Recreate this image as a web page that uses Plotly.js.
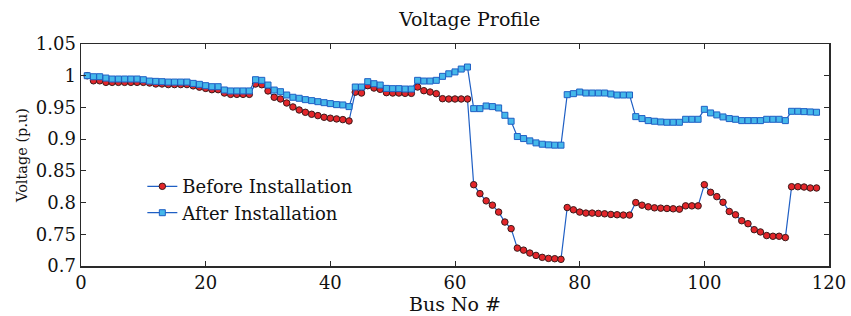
<!DOCTYPE html>
<html>
<head>
<meta charset="utf-8">
<script src="https://cdn.plot.ly/plotly-3.0.1.min.js"></script>
<style>html,body{margin:0;padding:0;background:#fff;}#chart{width:851px;height:316px;}</style>
</head>
<body>
<div id="chart"></div>
<script>
const busNo = [1,2,3,4,5,6,7,8,9,10,11,12,13,14,15,16,17,18,19,20,21,22,23,24,25,26,27,28,29,30,
31,32,33,34,35,36,37,38,39,40,41,42,43,44,45,46,47,48,49,50,51,52,53,54,55,56,57,58,59,60,
61,62,63,64,65,66,67,68,69,70,71,72,73,74,75,76,77,78,79,80,81,82,83,84,85,86,87,88,89,90,
91,92,93,94,95,96,97,98,99,100,101,102,103,104,105,106,107,108,109,110,111,112,113,114,115,116,117,118];

const beforeInstallation = [
1.000,0.992,0.992,0.9895,0.9895,0.9895,0.9895,0.9895,0.9895,0.9895,
0.9885,0.987,0.987,0.986,0.986,0.986,0.986,0.984,0.982,0.980,
0.978,0.978,0.9727,0.9706,0.9706,0.9706,0.9706,0.9869,0.9858,0.976,
0.966,0.9633,0.957,0.9507,0.946,0.9423,0.9392,0.9371,0.9345,0.933,
0.9319,0.9308,0.9287,0.974,0.9727,0.9843,0.9806,0.9785,0.9733,0.9727,
0.9727,0.9722,0.9722,0.9822,0.9764,0.9743,0.9717,0.9638,0.9633,0.9633,
0.9633,0.9633,0.8282,0.8141,0.8027,0.7959,0.785,0.7693,0.7589,0.7282,
0.725,0.7204,0.7167,0.7136,0.712,0.7115,0.7105,0.7922,0.7886,0.785,
0.7834,0.7834,0.7829,0.7823,0.7813,0.7808,0.7803,0.7803,0.800,0.7959,
0.7933,0.7917,0.7912,0.7907,0.7902,0.7896,0.7948,0.7948,0.7948,0.8282,
0.8162,0.8094,0.8005,0.786,0.7808,0.7714,0.7667,0.7573,0.7537,0.748,
0.7469,0.7469,0.7448,0.825,0.825,0.8245,0.823,0.823];

const afterInstallation = [
1.000,0.9984,0.9984,0.9963,0.9948,0.9948,0.9948,0.9948,0.9948,0.9937,
0.9916,0.9911,0.9906,0.990,0.990,0.990,0.990,0.9879,0.9864,0.9843,
0.9827,0.9827,0.9775,0.976,0.976,0.976,0.976,0.9937,0.9927,0.9853,
0.9774,0.9748,0.9696,0.966,0.9644,0.9623,0.9607,0.9591,0.9575,0.956,
0.9544,0.9539,0.9513,0.9822,0.9822,0.9906,0.9874,0.9853,0.980,0.9796,
0.9796,0.979,0.979,0.9927,0.9916,0.9916,0.9927,0.999,1.003,1.006,
1.0105,1.0137,0.9481,0.9481,0.9523,0.9513,0.9492,0.9376,0.9282,0.9041,
0.9009,0.8973,0.8941,0.892,0.891,0.8905,0.8905,0.9701,0.9717,0.9743,
0.9727,0.9727,0.9727,0.9727,0.9712,0.9696,0.9696,0.9696,0.9355,0.9324,
0.9292,0.9282,0.9271,0.9266,0.9266,0.9266,0.9313,0.9313,0.9313,0.947,
0.9413,0.9382,0.935,0.9324,0.9313,0.9292,0.9292,0.9292,0.9292,0.9313,
0.9313,0.9313,0.9292,0.9439,0.9439,0.9434,0.9429,0.9424];

const xTicks = [0,20,40,60,80,100,120];
const xTickText = ['0','20','40','60','80','100','120'];
const yTicks = [0.7,0.75,0.8,0.85,0.9,0.95,1,1.05];
const yTickText = ['0.7','0.75','0.8','0.85','0.9','0.95','1','1.05'];

const FONT = 'DejaVu Serif, Liberation Serif, serif';
const lineBlue = '#1f5fc4';

const traces = [
  {
    x: busNo, y: beforeInstallation, name: 'Before Installation',
    type: 'scatter', mode: 'lines+markers',
    line: {color: lineBlue, width: 1.2},
    marker: {symbol: 'circle', size: 6.5, color: '#e3262a', line: {color: '#3a1a1a', width: 1}}
  },
  {
    x: busNo, y: afterInstallation, name: 'After Installation',
    type: 'scatter', mode: 'lines+markers',
    line: {color: lineBlue, width: 1.2},
    marker: {symbol: 'square', size: 6, color: '#45b8ea', line: {color: '#1f5fc4', width: 1}}
  }
];

const axisCommon = {
  showline: true, mirror: 'ticks', linecolor: '#2a2a2a', linewidth: 1.5,
  ticks: 'inside', ticklen: 5, tickwidth: 1, tickcolor: '#2a2a2a',
  showgrid: false, zeroline: false,
  tickfont: {family: FONT, size: 18, color: '#111'}
};

const layout = {
  width: 851, height: 316,
  margin: {l: 81, r: 22, t: 44, b: 50},
  paper_bgcolor: '#ffffff', plot_bgcolor: '#ffffff',
  font: {family: FONT, color: '#111'},
  title: {text: 'Voltage Profile', x: 0.552, xanchor: 'center', y: 0.94, yanchor: 'middle',
          font: {family: FONT, size: 19, color: '#111'}},
  xaxis: Object.assign({}, axisCommon, {
    range: [0, 120], tickmode: 'array', tickvals: xTicks, ticktext: xTickText,
    title: {text: 'Bus No #', standoff: 2, font: {family: FONT, size: 19, color: '#111'}}
  }),
  yaxis: Object.assign({}, axisCommon, {
    range: [0.7, 1.05], tickmode: 'array', tickvals: yTicks, ticktext: yTickText,
    title: {text: 'Voltage (p.u)', standoff: 4, font: {family: FONT, size: 14.5, color: '#111'}}
  }),
  showlegend: true,
  legend: {x: 0.082, y: 0.441, xanchor: 'left', yanchor: 'top',
           bgcolor: 'rgba(0,0,0,0)', borderwidth: 0, itemwidth: 30,
           font: {family: FONT, size: 18, color: '#111'}, tracegroupgap: 0}
};

Plotly.newPlot('chart', traces, layout, {displayModeBar: false, staticPlot: true});
</script>
</body>
</html>
